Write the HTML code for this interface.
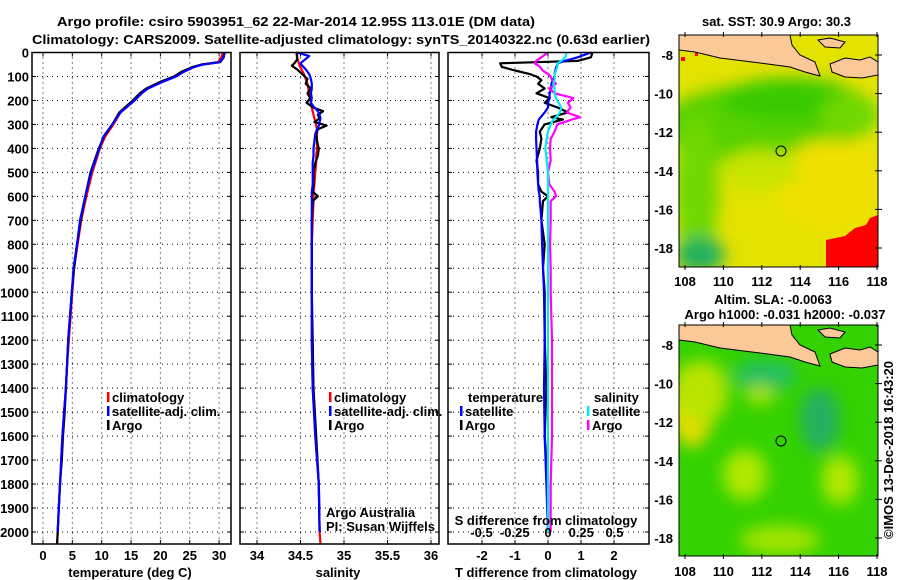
<!DOCTYPE html>
<html><head><meta charset="utf-8"><style>
html,body{margin:0;padding:0;background:#fff;width:900px;height:580px;overflow:hidden}
svg{display:block}
text{font-family:"Liberation Sans",sans-serif;font-weight:bold;font-size:13px;fill:#000}
</style></head><body>
<svg id="fig" width="900" height="580" xmlns="http://www.w3.org/2000/svg">
<defs>
<filter id="blur8" x="-50%" y="-50%" width="200%" height="200%"><feGaussianBlur stdDeviation="8"/></filter>
<clipPath id="clipM1"><rect x="679" y="35" width="199" height="232"/></clipPath>
<clipPath id="clipM2"><rect x="679" y="325" width="199" height="231"/></clipPath>
<g id="land">
<polygon points="679,35 790,35 792,45 800,55 815,62 820,76 805,72 790,67 760,63 720,58 695,52 679,50" fill="#fbc898" stroke="#000" stroke-width="1"/>
<polygon points="830,64 845,58 860,60 870,57 878,62 878,75 862,78 845,77 832,72" fill="#fbc898" stroke="#000" stroke-width="1"/>
<polygon points="818,40 830,38 845,42 840,48 825,47" fill="#fbc898" stroke="#000" stroke-width="1"/>
</g>
</defs>
<text x="57" y="26" textLength="478" lengthAdjust="spacingAndGlyphs" font-size="15.5">Argo profile: csiro 5903951_62 22-Mar-2014 12.95S 113.01E (DM data)</text>
<text x="32" y="44" textLength="618" lengthAdjust="spacingAndGlyphs" font-size="15.5">Climatology: CARS2009. Satellite-adjusted climatology: synTS_20140322.nc (0.63d earlier)</text>

<!-- map 1 -->
<g clip-path="url(#clipM1)">
<rect x="679" y="35" width="199" height="232" fill="#e4e200"/>
<g filter="url(#blur8)">
<ellipse cx="760" cy="125" rx="100" ry="40" fill="#58d200"/>
<ellipse cx="790" cy="100" rx="70" ry="22" fill="#38ca00"/>
<ellipse cx="697" cy="190" rx="22" ry="75" fill="#70d800"/>
<ellipse cx="850" cy="115" rx="30" ry="22" fill="#70d800"/>
<ellipse cx="700" cy="255" rx="25" ry="18" fill="#20b060"/>
<ellipse cx="830" cy="185" rx="55" ry="45" fill="#f0e000"/>
<ellipse cx="760" cy="170" rx="40" ry="20" fill="#c8e400"/>
</g>
<polygon points="826,267 826,240 845,236 855,228 866,225 870,218 878,215 878,267" fill="#ff0000"/>
<use href="#land"/>
<rect x="681" y="57" width="4" height="4" fill="#f00"/>
<rect x="695" y="53" width="3" height="3" fill="#f00"/>
<circle cx="781" cy="151" r="5" fill="none" stroke="#000" stroke-width="1"/>
</g>
<rect x="679" y="35" width="199" height="232" fill="none" stroke="#000"/>
<text x="702" y="26" textLength="149" lengthAdjust="spacingAndGlyphs">sat. SST: 30.9 Argo: 30.3</text>

<!-- map 2 -->
<g clip-path="url(#clipM2)">
<rect x="679" y="325" width="199" height="231" fill="#34d200"/>
<g filter="url(#blur8)">
<ellipse cx="692" cy="405" rx="22" ry="42" fill="#e8dc00"/>
<ellipse cx="702" cy="392" rx="26" ry="32" fill="#b8e400"/>
<ellipse cx="765" cy="375" rx="32" ry="16" fill="#20c060"/>
<ellipse cx="820" cy="420" rx="20" ry="32" fill="#20b060"/>
<ellipse cx="745" cy="475" rx="22" ry="25" fill="#b0e800"/>
<ellipse cx="840" cy="480" rx="18" ry="25" fill="#b0e800"/>
<ellipse cx="780" cy="540" rx="40" ry="15" fill="#a0e400"/>
<ellipse cx="760" cy="395" rx="15" ry="10" fill="#a8e400"/>
</g>
<use href="#land" transform="translate(0,290)"/>
<circle cx="781" cy="441" r="5" fill="none" stroke="#000" stroke-width="1"/>
</g>
<rect x="679" y="325" width="199" height="231" fill="none" stroke="#000"/>
<text x="773" y="304" text-anchor="middle">Altim. SLA: -0.0063</text>
<text x="785" y="319" text-anchor="middle">Argo h1000: -0.031 h2000: -0.037</text>
<text transform="translate(893,450) rotate(-90)" text-anchor="middle" font-weight="normal" font-size="13">©IMOS 13-Dec-2018 16:43:20</text>

<g id="plots"></g>
</svg>
<script>
// ---- data ----
const depthT = [0,20,40,50,60,80,100,120,150,170,200,250,300,350,400,500,600,700,800,900,1000,1100,1200,1300,1400,1500,1600,1700,1800,1900,2000,2050];
const tempClim = [30.6,30.4,29.8,27.2,25.8,24.0,22.6,20.5,17.8,16.8,15.6,13.2,12.0,10.6,9.7,8.4,7.4,6.5,5.9,5.3,5.0,4.7,4.4,4.1,3.9,3.6,3.3,3.1,2.9,2.7,2.5,2.4];
const tempArgo = [30.9,30.8,30.2,27.0,25.5,23.6,22.3,20.2,17.6,16.5,15.3,13.0,11.8,10.4,9.5,8.1,7.2,6.4,5.8,5.3,4.9,4.6,4.3,4.1,3.9,3.7,3.4,3.2,2.9,2.7,2.5,2.4];
const tempSat = [31.0,30.7,30.1,27.3,25.8,24.0,22.7,20.6,17.9,16.8,15.6,13.2,11.8,10.3,9.6,8.2,7.2,6.3,5.8,5.2,4.9,4.6,4.3,4.1,3.9,3.6,3.3,3.1,2.9,2.7,2.5];
const depthS = [0,15,30,45,55,70,90,110,130,150,170,190,210,230,245,260,275,290,305,320,340,370,400,430,460,500,550,580,600,620,700,800,1000,1200,1400,1600,1800,2000,2050];
const salClim = [34.45,34.46,34.47,34.48,34.49,34.51,34.54,34.56,34.58,34.59,34.60,34.61,34.62,34.63,34.64,34.65,34.66,34.67,34.68,34.69,34.69,34.69,34.69,34.68,34.68,34.67,34.66,34.65,34.65,34.65,34.64,34.63,34.63,34.63,34.64,34.67,34.71,34.72,34.73];
const salArgo = [34.46,34.46,34.46,34.43,34.40,34.46,34.52,34.58,34.56,34.62,34.58,34.61,34.57,34.65,34.76,34.70,34.72,34.66,34.80,34.70,34.68,34.69,34.71,34.70,34.67,34.65,34.65,34.64,34.70,34.64,34.63,34.63,34.63,34.64,34.65,34.68,34.71,34.72];
const salSat = [34.46,34.60,34.55,34.50,34.52,34.56,34.60,34.62,34.63,34.63,34.62,34.63,34.62,34.66,34.70,34.72,34.73,34.72,34.71,34.69,34.67,34.66,34.65,34.65,34.64,34.64,34.64,34.63,34.63,34.63,34.63,34.63,34.63,34.63,34.64,34.67,34.71,34.72];
const depthD = [0,20,35,45,60,75,90,100,115,130,150,170,190,210,230,250,270,280,300,330,360,400,450,500,550,580,600,620,700,800,900,1000,1200,1400,1600,1800,2000];
const dTargo = [1.35,1.30,0.9,-1.45,-1.4,-1.0,-0.55,-0.35,-0.2,-0.3,-0.1,-0.35,0.05,-0.1,0.3,0.6,0.1,0.45,-0.1,-0.25,-0.2,-0.25,-0.35,-0.3,-0.3,-0.2,0.0,-0.15,-0.2,-0.1,-0.15,-0.1,-0.1,-0.05,-0.1,0.0,0.0];
const dTsat = [1.3,0.9,0.5,0.3,0.25,0.22,0.2,0.2,0.15,0.1,0.1,0.05,0.05,0.0,0.0,-0.1,-0.22,-0.28,-0.32,-0.36,-0.36,-0.35,-0.33,-0.32,-0.3,-0.28,-0.25,-0.25,-0.2,-0.18,-0.15,-0.12,-0.1,-0.12,-0.1,-0.05,0.0];
const dSargo = [0.0,-0.05,-0.09,-0.10,-0.06,-0.04,0.0,0.02,0.03,0.06,0.01,0.05,0.19,0.15,0.17,0.14,0.24,0.18,0.07,0.05,0.02,0.015,0.02,0.0,0.01,0.05,0.06,0.02,0.02,0.015,0.02,0.02,0.03,0.03,0.03,0.02,0.02];
const dSsat = [0.14,0.13,0.10,0.07,0.07,0.06,0.05,0.05,0.05,0.04,0.05,0.05,0.06,0.08,0.10,0.09,0.06,0.04,0.02,0.0,-0.01,-0.02,-0.01,0.0,0.0,0.0,0.0,0.0,0.0,0.0,0.0,0.0,0.0,0.0,0.0,0.0,0.0];
const depthTicks = [0,100,200,300,400,500,600,700,800,900,1000,1100,1200,1300,1400,1500,1600,1700,1800,1900,2000];
const tTicks = [0,5,10,15,20,25,30];
const sTicks = [34,34.5,35,35.5,36];
const dTTicks = [-2,-1,0,1,2];
const dSTicks = [-0.5,-0.25,0,0.25,0.5];
const latTicks = [-8,-10,-12,-14,-16,-18];
const lonTicks = [108,110,112,114,116,118];

// ---- scales ----
const Y = d => 52.5 + d * 0.23975;
const XT = t => 43 + t * 5.87;
const XS = s => 257 + (s - 34) * 87;
const XDT = v => 548 + v * 33;
const XDS = v => 548 + v * 133;
const LAT1 = la => 55 + (-8 - la) * 19.3;
const LAT2 = la => 345 + (-8 - la) * 19.3;
const LON = lo => 685 + (lo - 108) * 19.2;

const NS = 'http://www.w3.org/2000/svg';
const root = document.getElementById('plots');
function mk(tag, attrs, parent, txt) {
  const e = document.createElementNS(NS, tag);
  for (const k in attrs) e.setAttribute(k, attrs[k]);
  if (txt !== undefined) e.textContent = txt;
  (parent || root).appendChild(e);
  return e;
}
function panel(x0, x1, name) {
  const g = mk('g', {});
  
  
  depthTicks.forEach(d => {
    const y = Y(d);
    const l = mk('line', {x1: x0, x2: x1, y1: y, y2: y, stroke: '#000', 'stroke-width': 1, 'stroke-dasharray': '1,4'}, g);
    
    
    mk('line', {x1: x0, x2: x0 + 4, y1: y, y2: y, stroke: '#000'}, g);
    mk('line', {x1: x1 - 4, x2: x1, y1: y, y2: y, stroke: '#000'}, g);
  });
  return g;
}
function vgrid(g, xs) {
  xs.forEach(x => {
    const l = mk('line', {x1: x, x2: x, y1: 52.5, y2: 544, stroke: '#000', 'stroke-width': 1, 'stroke-dasharray': '1,4'}, g);
    
    
    mk('line', {x1: x, x2: x, y1: 544, y2: 540, stroke: '#000'}, g);
    mk('line', {x1: x, x2: x, y1: 52.5, y2: 56.5, stroke: '#000'}, g);
  });
}
function frame(g, x0, x1) {
  const r = mk('rect', {x: x0, y: 52.5, width: x1 - x0, height: 544 - 52.5, fill: 'none', stroke: '#000', 'stroke-width': 1.5}, g);
  
  
}
function line(g, depths, vals, sx, color, name) {
  const pts = vals.map((v, i) => sx(v).toFixed(1) + ',' + Y(depths[i]).toFixed(1)).join(' ');
  const p = mk('polyline', {points: pts, fill: 'none', stroke: color, 'stroke-width': 2.2, 'stroke-linejoin': 'round'}, g);
  
  
}
function txt(g, x, y, s, name, anchor, extra) {
  const t = mk('text', Object.assign({x: x, y: y, 'text-anchor': anchor || 'start'}, extra || {}), g, s);
  
  
  return t;
}
function legend(g, x, y, color, label) {
  mk('rect', {x: x, y: y - 10, width: 2.5, height: 10, fill: color}, g);
  txt(g, x + 5, y, label, 'legend-entry');
}

const yl = mk('g', {});


depthTicks.forEach(d => txt(yl, 29, Y(d) + 5, String(d), 'depth-tick-label', 'end'));

// panel 1 temperature
const p1 = panel(32, 231, 'temperature-panel');
vgrid(p1, tTicks.map(XT));
line(p1, depthT, tempClim, XT, '#ff0000', 'temp-climatology-line');
line(p1, depthT, tempArgo, XT, '#000000', 'temp-argo-line');
line(p1, depthT.slice(0, tempSat.length), tempSat, XT, '#0000ff', 'temp-satellite-line');
frame(p1, 32, 231);
tTicks.forEach(t => txt(p1, XT(t), 560, String(t), 'temp-tick-label', 'middle'));
txt(p1, 130, 577, 'temperature (deg C)', 'x-axis-title', 'middle');
legend(p1, 107, 402, '#ff0000', 'climatology');
legend(p1, 107, 416, '#0000ff', 'satellite-adj. clim.');
legend(p1, 107, 430, '#000000', 'Argo');

// panel 2 salinity
const p2 = panel(240, 439, 'salinity-panel');
vgrid(p2, sTicks.map(XS));
line(p2, depthS, salClim, XS, '#ff0000', 'sal-climatology-line');
line(p2, depthS.slice(0, salArgo.length), salArgo, XS, '#000000', 'sal-argo-line');
line(p2, depthS.slice(0, salSat.length), salSat, XS, '#0000ff', 'sal-satellite-line');
frame(p2, 240, 439);
sTicks.forEach(s => txt(p2, XS(s), 560, String(s), 'salinity-tick-label', 'middle'));
txt(p2, 338, 577, 'salinity', 'x-axis-title', 'middle');
legend(p2, 329, 402, '#ff0000', 'climatology');
legend(p2, 329, 416, '#0000ff', 'satellite-adj. clim.');
legend(p2, 329, 430, '#000000', 'Argo');
txt(p2, 326, 517, 'Argo Australia', 'credit-text', 'start', {'font-weight': 'normal'});
txt(p2, 326, 531, 'PI: Susan Wijffels', 'credit-text', 'start', {'font-weight': 'normal'});

// panel 3 differences
const p3 = panel(448, 649, 'difference-panel');
vgrid(p3, dTTicks.map(XDT));
line(p3, depthD, dTargo, XDT, '#000000', 'temp-diff-argo-line');
line(p3, depthD, dTsat, XDT, '#0000ff', 'temp-diff-satellite-line');
line(p3, depthD, dSargo, XDS, '#ff00ff', 'sal-diff-argo-line');
line(p3, depthD, dSsat, XDS, '#00e8f0', 'sal-diff-satellite-line');
frame(p3, 448, 649);
dTTicks.forEach(v => txt(p3, XDT(v), 560, String(v), 'temp-diff-tick-label', 'middle'));
dSTicks.forEach(v => txt(p3, XDS(v), 537, String(v), 'sal-diff-tick-label', 'middle'));
txt(p3, 546, 525, 'S difference from climatology', 'sal-diff-axis-title', 'middle');
txt(p3, 546, 577, 'T difference from climatology', 'x-axis-title', 'middle');
txt(p3, 468, 402, 'temperature', 'legend-header');
txt(p3, 594, 402, 'salinity', 'legend-header');
legend(p3, 460, 416, '#0000ff', 'satellite');
legend(p3, 460, 430, '#000000', 'Argo');
legend(p3, 587, 416, '#00e8f0', 'satellite');
legend(p3, 587, 430, '#ff00ff', 'Argo');

// map axes
function mapAxes(LAT, yTop, yBot, labelY, name) {
  const g = mk('g', {});
  
  
  latTicks.forEach(la => {
    const y = LAT(la);
    txt(g, 673, y + 5, String(la), 'latitude-tick-label', 'end');
    mk('line', {x1: 875, x2: 882, y1: y, y2: y, stroke: '#000'}, g);
  });
  lonTicks.forEach(lo => {
    const x = LON(lo);
    txt(g, x, labelY, String(lo), 'longitude-tick-label', 'middle');
    mk('line', {x1: x, x2: x, y1: yTop - 3, y2: yTop + 2, stroke: '#000'}, g);
    mk('line', {x1: x, x2: x, y1: yBot - 2, y2: yBot + 3, stroke: '#000'}, g);
  });
}
mapAxes(LAT1, 35, 267, 286, 'sst-map-axes');
mapAxes(LAT2, 325, 556, 576, 'sla-map-axes');
</script>
</body></html>
